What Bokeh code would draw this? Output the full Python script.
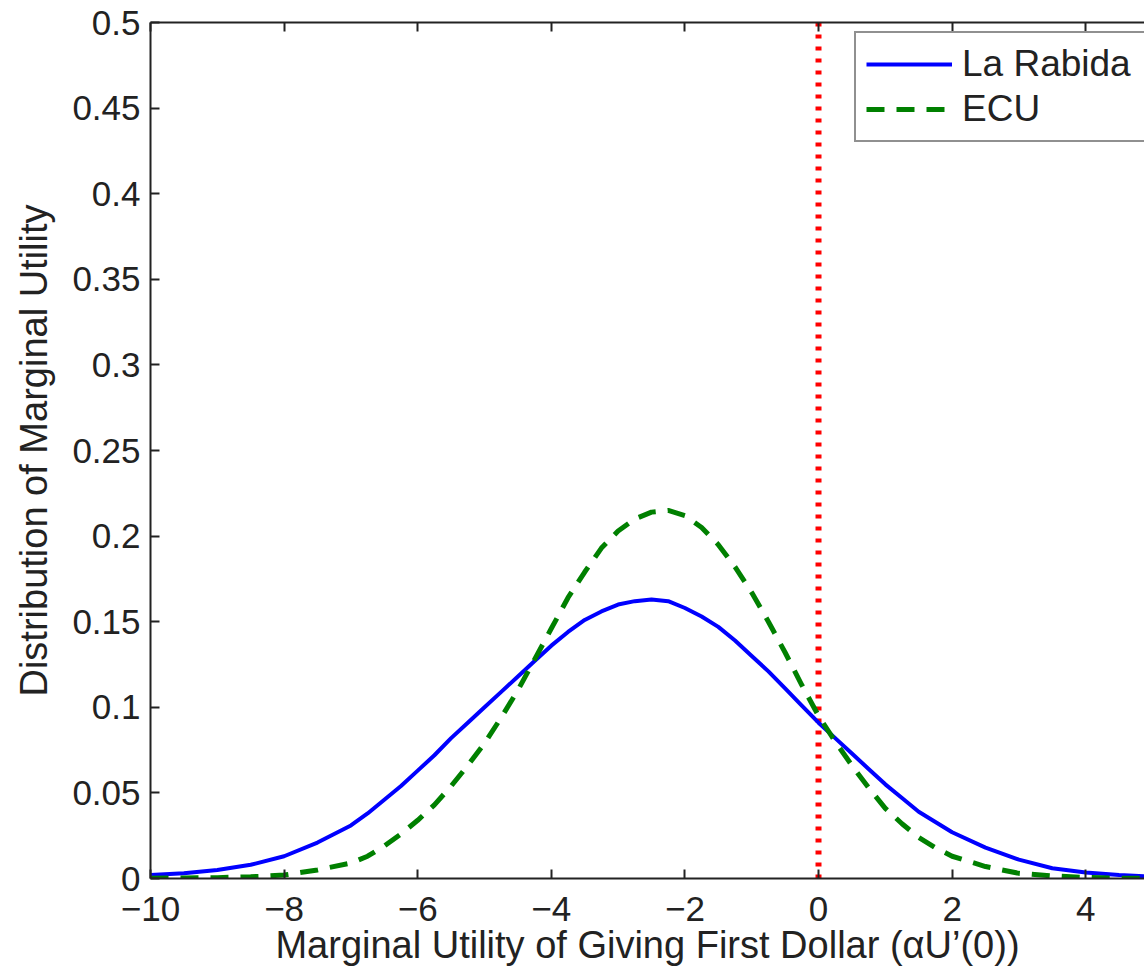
from bokeh.plotting import figure
from bokeh.models import LinearAxis, FixedTicker, Legend, LegendItem, Range1d
from bokeh.embed import file_html
from bokeh.resources import INLINE

# ---- data ----
x_vals = [-10, -9.5, -9, -8.5, -8, -7.5, -7, -6.75, -6.5, -6.25, -6, -5.75, -5.5, -5.25,
          -5, -4.75, -4.5, -4.25, -4, -3.75, -3.5, -3.25, -3, -2.75, -2.5, -2.25,
          -2, -1.75, -1.5, -1.25, -1, -0.75, -0.5, -0.25, 0, 0.25, 0.5, 0.75,
          1, 1.25, 1.5, 1.75, 2, 2.5, 3, 3.5, 4, 4.5, 5]
la_rabida = [0.002, 0.003, 0.005, 0.008, 0.013, 0.021, 0.031, 0.038, 0.046, 0.054, 0.063,
             0.072, 0.082, 0.091, 0.100, 0.109, 0.118, 0.127, 0.136, 0.144, 0.151,
             0.156, 0.160, 0.162, 0.163, 0.162, 0.158, 0.153, 0.147, 0.139, 0.130,
             0.121, 0.111, 0.101, 0.091, 0.082, 0.073, 0.064, 0.055, 0.047, 0.039,
             0.033, 0.027, 0.018, 0.011, 0.006, 0.0035, 0.002, 0.001]
ecu = [0.0002, 0.0003, 0.0005, 0.001, 0.002, 0.005, 0.009, 0.013, 0.019, 0.026, 0.034,
       0.043, 0.054, 0.066, 0.079, 0.094, 0.110, 0.128, 0.146, 0.164, 0.179, 0.193,
       0.203, 0.210, 0.214, 0.215, 0.212, 0.205, 0.195, 0.182, 0.167, 0.150, 0.132,
       0.113, 0.095, 0.080, 0.066, 0.053, 0.041, 0.032, 0.024, 0.018, 0.013, 0.007,
       0.003, 0.0015, 0.0006, 0.0002, 0.0001]
threshold_x = 0.0
series_names = ["La Rabida", "ECU"]

x_ticks = [-10, -8, -6, -4, -2, 0, 2, 4]
x_tick_labels = ["\u221210", "\u22128", "\u22126", "\u22124", "\u22122", "0", "2", "4"]
y_ticks = [0, 0.05, 0.1, 0.15, 0.2, 0.25, 0.3, 0.35, 0.4, 0.45, 0.5]
y_tick_labels = ["0", "0.05", "0.1", "0.15", "0.2", "0.25", "0.3", "0.35", "0.4", "0.45", "0.5"]

x_label = "Marginal Utility of Giving First Dollar (\u03b1U\u2019(0))"
y_label = "Distribution of Marginal Utility"

FONT = "Liberation Sans"
INK = "#222222"

p = figure(frame_width=994, frame_height=856, output_backend="svg", toolbar_location=None,
           x_range=Range1d(-10, 4.88), y_range=Range1d(0, 0.5),
           min_border_left=150, min_border_right=0, min_border_top=22, min_border_bottom=10,
           x_axis_location=None, y_axis_location=None)
p.outline_line_color = None
p.grid.visible = False
p.background_fill_color = "white"
p.border_fill_color = "white"

xb = LinearAxis(ticker=FixedTicker(ticks=x_ticks),
                major_label_overrides={t: l for t, l in zip(x_ticks, x_tick_labels)})
xb.axis_label = x_label
yl = LinearAxis(ticker=FixedTicker(ticks=y_ticks),
                major_label_overrides={t: l for t, l in zip(y_ticks, y_tick_labels)})
yl.axis_label = y_label
for ax in (xb, yl):
    ax.major_tick_in = 9
    ax.major_tick_out = 0
    ax.minor_tick_line_color = None
    ax.axis_line_width = 2
    ax.major_tick_line_width = 2
    ax.axis_line_color = INK
    ax.major_tick_line_color = INK
    ax.major_label_text_font = FONT
    ax.major_label_text_font_size = "35px"
    ax.major_label_text_color = INK
    ax.axis_label_text_font = FONT
    ax.axis_label_text_font_size = "38px"
    ax.axis_label_text_font_style = "normal"
    ax.axis_label_text_color = INK
xb.major_label_standoff = 18
xb.axis_label_standoff = 0
yl.major_label_standoff = 10
yl.axis_label_standoff = 14
p.add_layout(xb, "below")
p.add_layout(yl, "left")

# top edge of the box with inward ticks
xt = LinearAxis(ticker=FixedTicker(ticks=x_ticks),
                major_label_overrides={t: "" for t in x_ticks})
xt.major_label_text_font_size = "0px"
xt.major_tick_in = 9
xt.major_tick_out = 0
xt.minor_tick_line_color = None
xt.axis_line_width = 2
xt.major_tick_line_width = 2
xt.axis_line_color = INK
xt.major_tick_line_color = INK
xt.major_label_standoff = 0
p.add_layout(xt, "above")

# vertical threshold line
p.segment(x0=[threshold_x], y0=[0], x1=[threshold_x], y1=[0.5],
          line_color="#ff0000", line_width=6, line_dash="4 8")

r1 = p.line(x_vals, la_rabida, line_color="#0000ff", line_width=4)
r2 = p.line(x_vals, ecu, line_color="#008000", line_width=5, line_dash="18 12")

legend = Legend(items=[LegendItem(label=series_names[0], renderers=[r1]),
                       LegendItem(label=series_names[1], renderers=[r2])],
                location=(704, 736))
legend.label_text_font = FONT
legend.label_text_font_size = "37px"
legend.label_text_color = INK
legend.glyph_width = 86
legend.glyph_height = 40
legend.label_height = 40
legend.label_width = 183
legend.label_standoff = 10
legend.spacing = 3
legend.padding = 10
legend.margin = 0
legend.border_line_color = INK
legend.border_line_width = 2
legend.background_fill_color = "white"
legend.background_fill_alpha = 1.0
p.add_layout(legend, "center")

open("out.html", "w").write(file_html(p, INLINE))
